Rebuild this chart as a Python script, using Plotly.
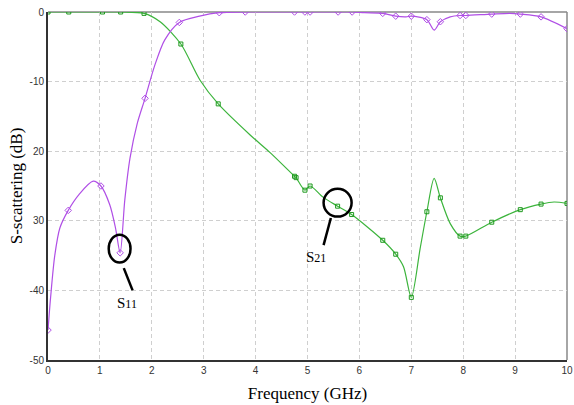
import plotly.graph_objects as go

# S11 curve (GHz, dB)
s11_f = [0, 0.05, 0.13, 0.23, 0.39, 0.6, 0.87, 1.02, 1.19, 1.3, 1.39, 1.48, 1.58, 1.72,
         1.87, 2.06, 2.25, 2.53, 2.92, 3.3, 3.8, 4.75, 4.95, 5.05, 5.59, 5.86, 6.1, 6.45,
         6.7, 6.9, 7.0, 7.3, 7.44, 7.56, 7.75, 7.94, 8.05, 8.55, 8.9, 9.1, 9.5, 10]
s11_db = [-45.7, -41, -35, -31, -28.5, -26.2, -24.3, -25, -27.7, -31, -34.6, -27, -21, -16,
          -12.4, -7.6, -4, -1.5, -0.6, -0.1, 0, 0, 0, 0, 0, 0, -0.1, -0.2,
          -0.6, -0.7, -0.6, -1.1, -2.6, -1.4, -0.7, -0.5, -0.5, -0.3, -0.2, -0.3, -0.7, -2.4]
# S11 marker points
s11_mf = [0, 0.39, 1.02, 1.39, 1.87, 2.53, 3.3, 3.8, 4.75, 4.95, 5.05, 5.59, 5.86, 6.45,
          6.7, 7.0, 7.3, 7.56, 7.94, 8.05, 8.55, 9.1, 9.5, 10]
s11_mdb = [-45.7, -28.5, -25, -34.6, -12.4, -1.5, -0.1, 0, 0, 0, 0, 0, 0, -0.2,
           -0.6, -0.6, -1.1, -1.4, -0.5, -0.5, -0.3, -0.3, -0.7, -2.4]

# S21 curve
s21_f = [0, 0.4, 1.05, 1.4, 1.85, 2.16, 2.56, 2.93, 3.28, 3.9, 4.28, 4.75, 4.78, 4.95,
         5.05, 5.3, 5.58, 5.85, 6.45, 6.7, 6.85, 7.0, 7.17, 7.3, 7.44, 7.56, 7.75, 7.94,
         8.05, 8.55, 9.1, 9.5, 9.75, 10]
s21_db = [0, 0, 0, 0, -0.2, -1.4, -4.6, -9.8, -13.2, -17.7, -20.2, -23.6, -23.8, -25.6,
          -25.0, -26.6, -27.9, -29.1, -32.8, -34.8, -36.6, -41, -34, -28.7, -23.9, -26.7, -30.4, -32.2,
          -32.2, -30.2, -28.4, -27.6, -27.3, -27.5]
s21_mf = [0, 0.4, 1.05, 1.4, 1.85, 2.56, 3.28, 4.75, 4.78, 4.95, 5.05, 5.58, 5.85, 6.45,
          6.7, 7.0, 7.3, 7.56, 7.94, 8.05, 8.55, 9.1, 9.5, 10]
s21_mdb = [0, 0, 0, 0, -0.2, -4.6, -13.2, -23.6, -23.8, -25.6, -25.0, -27.9, -29.1, -32.8,
           -34.8, -41, -28.7, -26.7, -32.2, -32.2, -30.2, -28.4, -27.6, -27.5]

y_ticks = [0, -10, -20, -30, -40, -50]
y_ticktext = ["0", "-10", "20", "30", "-40", "-50"]
x_ticks = list(range(0, 11))

purple = "#b04fe6"
green = "#3cb43c"

fig = go.Figure()
fig.add_trace(go.Scatter(x=s21_f, y=s21_db, mode="lines",
                         line=dict(color=green, width=1.2, shape="spline", smoothing=0.8),
                         hoverinfo="skip", showlegend=False))
fig.add_trace(go.Scatter(x=s21_mf, y=s21_mdb, mode="markers",
                         marker=dict(symbol="square-open", size=4, color="#1f9a1f",
                                     line=dict(width=1)),
                         showlegend=False))
fig.add_trace(go.Scatter(x=s11_f, y=s11_db, mode="lines",
                         line=dict(color=purple, width=1.2, shape="spline", smoothing=0.8),
                         hoverinfo="skip", showlegend=False))
fig.add_trace(go.Scatter(x=s11_mf, y=s11_mdb, mode="markers",
                         marker=dict(symbol="diamond-open", size=5, color=purple,
                                     line=dict(width=1)),
                         showlegend=False))

# annotation circles and pointer lines
fig.add_shape(type="circle", xref="x", yref="y", x0=1.17, x1=1.59, y0=-36.0, y1=-32.0,
              line=dict(color="black", width=2.5))
fig.add_shape(type="line", xref="x", yref="y", x0=1.46, y0=-36.8, x1=1.63, y1=-40.0,
              line=dict(color="black", width=2.5))
fig.add_shape(type="circle", xref="x", yref="y", x0=5.31, x1=5.85, y0=-29.4, y1=-25.4,
              line=dict(color="black", width=2.5))
fig.add_shape(type="line", xref="x", yref="y", x0=5.45, y0=-29.6, x1=5.31, y1=-33.5,
              line=dict(color="black", width=2.5))
# top / right frame in grey
fig.add_shape(type="line", xref="paper", yref="paper", x0=0, x1=1, y0=1, y1=1,
              line=dict(color="#888888", width=1.5), layer="below")
fig.add_shape(type="line", xref="paper", yref="paper", x0=1, x1=1, y0=0, y1=1,
              line=dict(color="#888888", width=1.5), layer="below")

fig.add_annotation(x=1.52, y=-41.8, text="S<span style='font-size:12px'>11</span>",
                   showarrow=False,
                   font=dict(family="Liberation Serif", size=15, color="black"))
fig.add_annotation(x=5.17, y=-35.2, text="S<span style='font-size:12px'>21</span>",
                   showarrow=False,
                   font=dict(family="Liberation Serif", size=15, color="black"))

fig.update_layout(
    width=574, height=405,
    margin=dict(l=48, r=7, t=12, b=45),
    paper_bgcolor="white", plot_bgcolor="white",
    xaxis=dict(range=[0, 10], tickvals=x_ticks, ticks="", showgrid=True, automargin=False,
               gridcolor="#cfcfcf", griddash="4px,3px", gridwidth=1,
               showline=True, linecolor="#333333", linewidth=2, zeroline=False,
               tickfont=dict(family="Liberation Sans", size=10, color="#333333"),
               title=dict(text="Frequency (GHz)", standoff=12,
                          font=dict(family="Liberation Serif", size=17, color="black"))),
    yaxis=dict(range=[-50, 0], tickvals=y_ticks, ticktext=y_ticktext, ticks="",
               showgrid=True, gridcolor="#cfcfcf", griddash="4px,3px", gridwidth=1,
               automargin=False,
               showline=True, linecolor="#333333", linewidth=2, zeroline=False,
               tickfont=dict(family="Liberation Sans", size=10, color="#333333"),
               title=dict(text="S-scattering (dB)", standoff=3,
                          font=dict(family="Liberation Serif", size=17, color="black"))),
)

fig.write_html("out.html", config={"displayModeBar": False},
               post_script="document.body.style.margin='0';document.body.style.overflow='hidden';")
